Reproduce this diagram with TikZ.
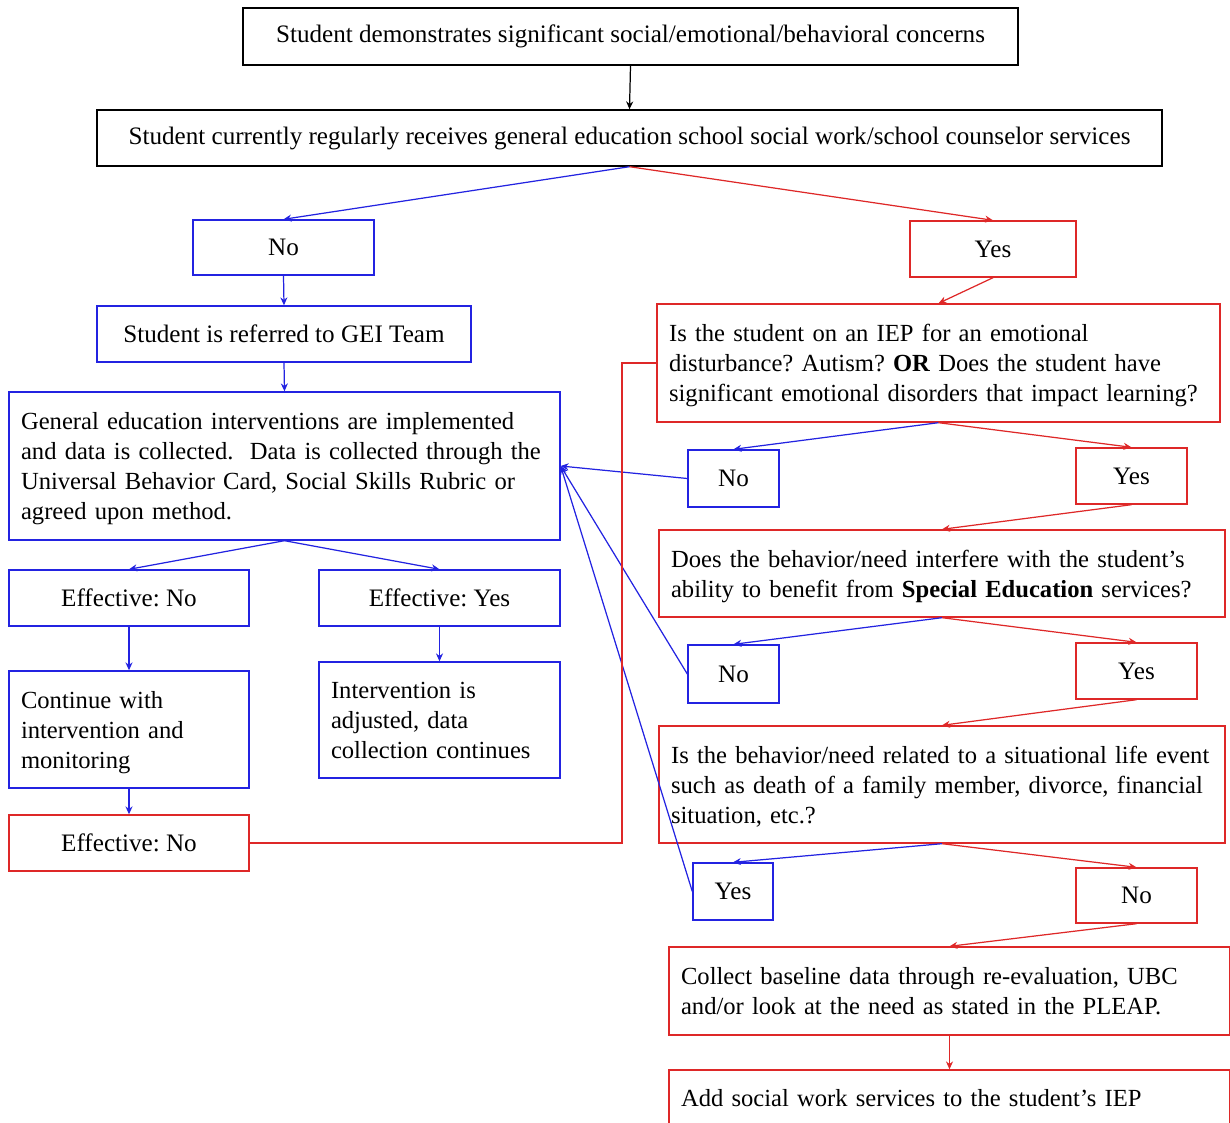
\documentclass[tikz,border=0pt]{standalone}
\usepackage{fontspec}
\setmainfont{Liberation Serif}
\usetikzlibrary{arrows.meta}
\definecolor{gblue}{RGB}{35,35,225}
\definecolor{gred}{RGB}{222,40,40}
\newcommand{\fs}{\fontsize{14.3}{17.1}\selectfont}
\newcommand{\fm}{\fontsize{14}{17.1}\selectfont}
\newcommand{\boxlines}[1]{\raisebox{-1.6pt}[\height][\depth]{\begin{tabular}{@{}l@{}}#1\end{tabular}}}
\frenchspacing

\begin{document}
\begin{tikzpicture}[
  x=0.02cm, y=-0.02cm,
  >={Stealth[length=4.5pt,width=4pt]},
  every node/.style={font=\fs},
  box/.style={draw, line width=0.8pt, inner xsep=0.24cm, inner ysep=0pt},
  bbox/.style={box, draw=gblue},
  rbox/.style={box, draw=gred},
  multi/.style={text width=#1, align=left, font=\fm},
  bline/.style={gblue, line width=0.7pt, ->},
  rline/.style={gred, line width=0.7pt, ->}
]
\useasboundingbox (0,0) rectangle (1230,1122);

% --- Top of the chart ---
\node[box, minimum width=15.5cm, minimum height=1.14cm] (start) at (630.5,36.5)
  {Student demonstrates significant social/emotional/behavioral concerns};
\node[box, minimum width=21.3cm, minimum height=1.12cm] (current) at (629.5,138)
  {Student currently regularly receives general education school social work/school counselor services};
\draw[line width=0.7pt, ->] (start.south) -- (current.north);

% --- Left branch: no services ---
\node[bbox, minimum width=3.62cm, minimum height=1.10cm] (no1) at (283.5,247.5) {No};
\node[bbox, minimum width=7.48cm, minimum height=1.12cm] (gei) at (284,334) {Student is referred to GEI Team};
\node[bbox, multi=10.54cm, minimum height=2.96cm] (gen) at (284.5,466)
  {\boxlines{General education interventions are implemented\\and data is collected.\ \ Data is collected through the\\Universal Behavior Card, Social Skills Rubric or\\agreed upon method.}};
\node[bbox, minimum width=4.8cm, minimum height=1.12cm] (effno) at (129,598) {Effective: No};
\node[bbox, minimum width=4.82cm, minimum height=1.12cm] (effyes) at (439.5,598) {Effective: Yes};
\node[bbox, multi=4.32cm, minimum height=2.34cm] (cont) at (129,729.5)
  {\boxlines{Continue with\\intervention and\\monitoring}};
\node[bbox, multi=4.34cm, minimum height=2.32cm] (adjust) at (439.5,720)
  {\boxlines{Intervention is\\adjusted, data\\collection continues}};
\node[rbox, minimum width=4.8cm, minimum height=1.12cm] (effno2) at (129,843) {Effective: No};

\draw[bline] (current.south) -- (no1.north);
\draw[bline] (no1.south) -- (gei.north);
\draw[bline] (gei.south) -- (gen.north);
\draw[bline] (gen.south) -- (effno.north);
\draw[bline] (gen.south) -- (effyes.north);
\draw[bline] (effno.south) -- (cont.north);
\draw[bline] (effyes.south) -- (adjust.north);
\draw[bline] (cont.south) -- (effno2.north);

% --- Right branch: receives services ---
\node[rbox, minimum width=3.32cm, minimum height=1.12cm] (yes1) at (993,249) {Yes};
\node[rbox, multi=10.78cm, minimum height=2.36cm] (iep) at (938.5,363)
  {\boxlines{Is the student on an IEP for an emotional\\disturbance? Autism? \textbf{OR} Does the student have\\significant emotional disorders that impact learning?}};
\node[bbox, minimum width=1.82cm, minimum height=1.14cm] (no2) at (733.5,478.5) {No};
\node[rbox, minimum width=2.22cm, minimum height=1.12cm] (yes2) at (1131.5,476) {Yes};
\node[rbox, multi=10.84cm, minimum height=1.74cm] (interfere) at (942,573.5)
  {\boxlines{Does the behavior/need interfere with the student's\\ability to benefit from \textbf{Special Education} services?}};
\node[bbox, minimum width=1.82cm, minimum height=1.16cm] (no3) at (733.5,674) {No};
\node[rbox, minimum width=2.42cm, minimum height=1.12cm] (yes3) at (1136.5,671) {Yes};
\node[rbox, multi=10.84cm, minimum height=2.34cm] (event) at (942,784.5)
  {\boxlines{Is the behavior/need related to a situational life event\\such as death of a family member, divorce, financial\\situation, etc.?}};
\node[bbox, minimum width=1.6cm, minimum height=1.14cm] (yes4) at (733,891.5) {Yes};
\node[rbox, minimum width=2.42cm, minimum height=1.10cm] (no4) at (1136.5,895.5) {No};
\node[rbox, multi=10.74cm, minimum height=1.76cm] (collect) at (949.5,991)
  {\boxlines{Collect baseline data through re-evaluation, UBC\\and/or look at the need as stated in the PLEAP.}};
\node[rbox, multi=10.74cm, minimum height=1.12cm] (add) at (949.5,1098)
  {Add social work services to the student’s IEP};

\draw[rline] (current.south) -- (yes1.north);
\draw[rline] (yes1.south) -- (iep.north);
\draw[bline] (iep.south) -- (no2.north);
\draw[rline] (iep.south) -- (yes2.north);
\draw[rline] (yes2.south) -- (interfere.north);
\draw[bline] (interfere.south) -- (no3.north);
\draw[rline] (interfere.south) -- (yes3.north);
\draw[rline] (yes3.south) -- (event.north);
\draw[bline] (event.south) -- (yes4.north);
\draw[rline] (event.south) -- (no4.north);
\draw[rline] (no4.south) -- (collect.north);
\draw[rline] (collect.south) -- (add.north);

% --- Returns to the interventions box ---
\draw[bline] (no2.west) -- (gen.east);
\draw[bline] (no3.west) -- (gen.east);
\draw[bline] (yes4.west) -- (gen.east);

% --- Loop from the second "Effective: No" ---
\coordinate (turn) at (622,363);
\draw[gred, line width=0.7pt] (effno2.east) -| (turn) -- (iep.west);

\end{tikzpicture}
\end{document}
